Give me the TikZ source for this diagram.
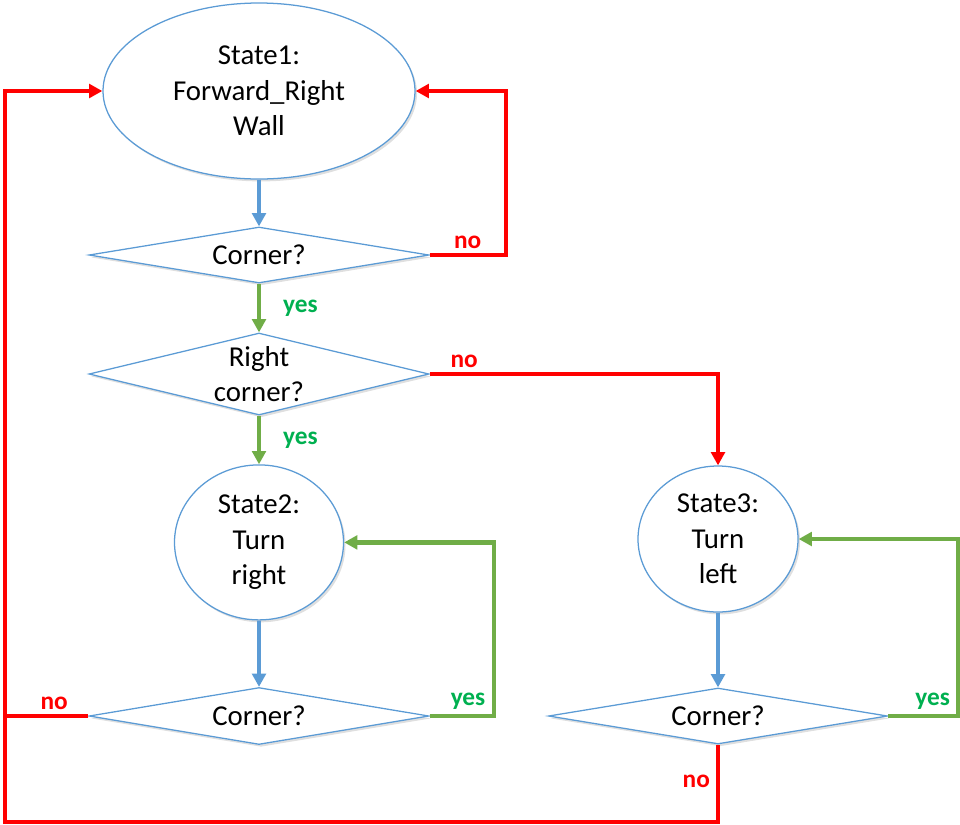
\documentclass[tikz,border=0pt]{standalone}
\usepackage{fontspec}
\setmainfont{Carlito}
\usepackage{tikz}
\usetikzlibrary{shapes.geometric}
\usetikzlibrary{arrows.meta,shadows}
\definecolor{flowblue}{HTML}{5B9BD5}
\definecolor{flowgreen}{HTML}{70AD47}
\definecolor{flowred}{HTML}{FF0000}
\definecolor{yesgreen}{HTML}{00B050}
\tikzset{
  shapebox/.style={draw=flowblue,line width=0.9pt,fill=white,inner sep=0pt,align=center,
    font=\fontsize{20.5}{25.2}\selectfont,
    drop shadow={shadow xshift=0.05cm,shadow yshift=-0.06cm,opacity=0.25}},
  statebox/.style={shapebox,ellipse},
  testbox/.style={shapebox,diamond,aspect=4,inner ysep=-6pt},
  flowline/.style={line width=3pt},
  flowlink/.style={flowline,-{Triangle[length=0.33cm,width=0.34cm]}},
  bluelink/.style={flowlink,flowblue},
  greenlink/.style={flowlink,flowgreen},
  redline/.style={flowline,flowred},
  redlink/.style={flowlink,flowred},
  yeslabel/.style={text=yesgreen,font=\fontsize{18}{20}\selectfont\bfseries,inner sep=0pt},
  nolabel/.style={yeslabel,text=flowred}
}
\newcommand{\statenode}{\node[statebox]}
\newcommand{\testnode}{\node[testbox]}

\begin{document}
\begin{tikzpicture}
      \useasboundingbox (0,0) rectangle (24,-20.6);
      \statenode[minimum width=7.8cm,minimum height=4.4cm] (st1) at (6.475,-2.275) {State1:\\Forward\_Right\\Wall}; % follow wall
      \testnode[minimum width=8.5cm,minimum height=1.4cm] (c1) at (6.475,-6.375) {Corner?};
      \testnode[minimum width=8.5cm,minimum height=2.05cm] (rc) at (6.475,-9.35) {Right\\corner?};
      \statenode[minimum width=4.225cm,minimum height=3.875cm] (st2) at (6.475,-13.56) {State2:\\Turn\\right}; % right turn
      \testnode[minimum width=8.5cm,minimum height=1.425cm] (c2) at (6.475,-17.9) {Corner?};
      \statenode[minimum width=4cm,minimum height=3.65cm] (st3) at (17.95,-13.475) {State3:\\Turn\\left}; % left turn
      \testnode[minimum width=8.475cm,minimum height=1.4cm] (c3) at (17.95,-17.9) {Corner?};
      \coordinate (lb) at (0.125,-20.55); % outer loop corner
      %%%% graph links
      \draw[bluelink] (st1.south) -- (c1.north);
      \draw[greenlink] (c1.south) -- node[yeslabel,right=0.55cm] {yes} (rc.north);
      \draw[redlink] (c1.east) -- node[nolabel,above=0.1cm] {no} ++(1.9,0) |- (st1.east);
      \draw[greenlink] (rc.south) -- node[yeslabel,right=0.55cm] {yes} (st2.north);
      \draw[redlink] (rc.east) -- node[nolabel,above=0.1cm,pos=0.12] {no} (rc.east -| st3.north) -- (st3.north);
      \draw[bluelink] (st2.south) -- (c2.north);
      \draw[greenlink] (c2.east) -- node[yeslabel,above=0.1cm,pos=0.6] {yes} ++(1.6,0) |- (st2.east);
      \draw[redline] (c2.west) -- node[nolabel,above=0.1cm,pos=0.41] {no} (c2.west -| lb);
      \draw[bluelink] (st3.south) -- (c3.north);
      \draw[greenlink] (c3.east) -- node[yeslabel,above=0.1cm,pos=0.64] {yes} ++(1.74,0) |- (st3.east);
      %%%%% back to state 1
      \draw[redlink] (c3.south) |- node[nolabel,left=0.15cm,pos=0.24] {no} (lb) |- (st1.west);
    \end{tikzpicture}
\end{document}
